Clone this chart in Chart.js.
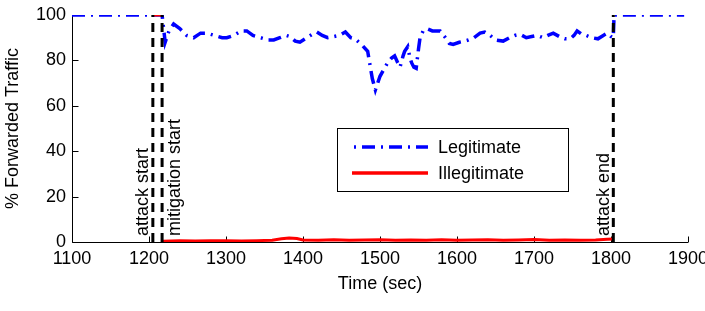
<!DOCTYPE html>
<html>
<head>
<meta charset="utf-8">
<script src="https://cdn.jsdelivr.net/npm/chart.js@4.4.0/dist/chart.umd.min.js"></script>
<style>
html, body { margin: 0; padding: 0; background: #fff; }
#wrap { width: 705px; height: 311px; }
</style>
</head>
<body>
<div id="wrap"><canvas id="chart"></canvas></div>
<script>
// ── Data ───────────────────────────────────────────────────────────────
var legitTime = [1100, 1205, 1217, 1221, 1226, 1232, 1240, 1249, 1258, 1267, 1275, 1285, 1295, 1301,
    1310, 1320, 1327, 1335, 1345, 1355, 1362, 1370, 1378, 1383, 1390, 1396, 1405, 1412, 1418, 1425,
    1432, 1440, 1447, 1455, 1462, 1468, 1476, 1484, 1487, 1490, 1494, 1497, 1500, 1505, 1510, 1515,
    1519, 1523, 1526, 1530, 1532, 1536, 1539, 1541, 1544, 1547, 1550, 1552, 1556, 1561, 1568, 1578,
    1585, 1590, 1595, 1603, 1610, 1615, 1622, 1630, 1636, 1643, 1650, 1660, 1668, 1675, 1682, 1690,
    1697, 1704, 1712, 1718, 1725, 1733, 1740, 1747, 1752, 1756, 1762, 1768, 1775, 1783, 1790, 1795,
    1800, 1803, 1804, 1895];
var legitValue = [100, 100, 100, 88, 93, 96, 94, 91, 90, 92, 92, 91, 90, 90,
    91, 93, 93, 91, 90, 89, 89, 90, 91, 90.5, 88.5, 88, 90, 91.5, 92.5, 91,
    90, 90.5, 91, 92.5, 90, 89.4, 87, 84, 78, 72, 67, 70, 73, 76, 79, 81,
    82, 79, 77, 82, 84, 86, 81, 79, 77, 76.5, 85, 90, 93, 94, 93, 93,
    90, 87.5, 87, 88, 88.5, 89, 90, 92, 92.5, 91, 89, 88.5, 90, 91, 91.5, 90,
    90.5, 91, 90, 91, 92, 90.5, 89.5, 89.5, 91, 93, 91.5, 91, 90, 89.5, 91, 92,
    90.5, 90, 100, 100];
// null marks the break between the pre-mitigation segment and the rest
var illegitTime = [1205, 1217, 1217.5, 1218, 1240, 1260, 1280, 1300, 1320, 1340, 1360, 1372, 1382, 1392, 1400,
    1420, 1440, 1460, 1480, 1500, 1520, 1540, 1560, 1580, 1600, 1620, 1640, 1660, 1680, 1700, 1720,
    1740, 1760, 1780, 1795, 1803];
var illegitValue = [100, 100, null, 0.3, 0.5, 0.4, 0.6, 0.5, 0.4, 0.6, 0.8, 1.4, 1.8, 1.5, 0.9,
    0.8, 1.0, 0.8, 0.9, 1.0, 0.8, 0.9, 0.8, 1.0, 0.8, 0.9, 1.0, 0.8, 0.9, 1.1, 0.8,
    0.9, 0.8, 0.9, 1.2, 1.3];
var eventTime = [1205, 1217, 1803];
var eventLabels = ["attack start", "mitigation start", "attack end"];
var seriesNames = ["Legitimate", "Illegitimate"];
var xTicks = [1100, 1200, 1300, 1400, 1500, 1600, 1700, 1800, 1900];
var yTicks = [0, 20, 40, 60, 80, 100];

// ── Styles ─────────────────────────────────────────────────────────────
var FONT = "'Liberation Sans', Arial, Helvetica, sans-serif";
var BLUE = "#0000ff";
var RED = "#ff0000";
var BLUE_DASH = [13, 6, 2, 6];
var EVENT_DASH = [9, 6];

function toPoints(xs, ys) {
    return xs.map(function (x, i) { return { x: x, y: ys[i] }; });
}

var eventSets = eventTime.map(function (t) {
    return {
        label: "event",
        data: [{ x: t, y: 0 }, { x: t, y: 100 }],
        borderColor: "#000",
        borderWidth: 3,
        borderDash: EVENT_DASH,
        pointRadius: 0,
        order: 0
    };
});

// axes drawn MATLAB-like: left + bottom only, ticks pointing inward
var axesPlugin = {
    id: "matlabAxes",
    beforeDatasetsDraw: function (chart) {
        var ctx = chart.ctx, a = chart.chartArea;
        var xs = chart.scales.x, ys = chart.scales.y;
        ctx.save();
        ctx.strokeStyle = "#000";
        ctx.lineWidth = 1;
        ctx.beginPath();
        var l = Math.round(a.left) + 0.5, b = Math.round(a.bottom) + 0.5;
        ctx.moveTo(l, a.top);
        ctx.lineTo(l, b);
        ctx.lineTo(a.right, b);
        xTicks.forEach(function (t) {
            var px = Math.round(xs.getPixelForValue(t)) + 0.5;
            ctx.moveTo(px, b);
            ctx.lineTo(px, b - 6);
        });
        yTicks.forEach(function (v) {
            var py = Math.round(ys.getPixelForValue(v)) + 0.5;
            ctx.moveTo(l, py);
            ctx.lineTo(l + 6, py);
        });
        ctx.stroke();
        ctx.restore();
    }
};

var labelDx = [-5, 18, -4];
var overlayPlugin = {
    id: "overlay",
    afterDatasetsDraw: function (chart) {
        var ctx = chart.ctx, a = chart.chartArea;
        var xs = chart.scales.x;
        ctx.save();
        ctx.font = "18px " + FONT;
        ctx.fillStyle = "#000";
        // event labels, rotated
        eventTime.forEach(function (t, i) {
            ctx.save();
            ctx.translate(xs.getPixelForValue(t) + labelDx[i], a.bottom - 6);
            ctx.rotate(-Math.PI / 2);
            ctx.textAlign = "left";
            ctx.textBaseline = "alphabetic";
            ctx.fillText(eventLabels[i], 0, 0);
            ctx.restore();
        });
        // legend box
        var bx = a.left + 265, by = a.top + 113, bw = 231, bh = 63;
        ctx.fillStyle = "#fff";
        ctx.fillRect(bx, by, bw, bh);
        ctx.strokeStyle = "#000";
        ctx.lineWidth = 1;
        ctx.strokeRect(Math.round(bx) + 0.5, Math.round(by) + 0.5, bw, bh);
        var rows = [by + 19, by + 45];
        var styles = [
            { color: BLUE, dash: BLUE_DASH, offset: 17 },
            { color: RED, dash: [], offset: 0 }
        ];
        rows.forEach(function (y, i) {
            ctx.beginPath();
            ctx.strokeStyle = styles[i].color;
            ctx.lineWidth = 3.5;
            ctx.setLineDash(styles[i].dash);
            ctx.lineDashOffset = styles[i].offset;
            ctx.moveTo(bx + 15, y);
            ctx.lineTo(bx + 91, y);
            ctx.stroke();
            ctx.setLineDash([]);
            ctx.fillStyle = "#000";
            ctx.textAlign = "left";
            ctx.textBaseline = "middle";
            ctx.fillText(seriesNames[i], bx + 101, y + 1);
        });
        ctx.restore();
    }
};

Chart.defaults.font.family = FONT;
Chart.defaults.font.size = 18;
Chart.defaults.color = "#000";

new Chart(document.getElementById("chart"), {
    type: "line",
    data: {
        datasets: eventSets.concat([
            {
                label: seriesNames[1],
                data: toPoints(illegitTime, illegitValue),
                borderColor: RED,
                borderWidth: 3,
                pointRadius: 0,
                tension: 0,
                spanGaps: false,
                order: 1
            },
            {
                label: seriesNames[0],
                data: toPoints(legitTime, legitValue),
                borderColor: BLUE,
                borderWidth: 3.5,
                borderDash: BLUE_DASH,
                pointRadius: 0,
                tension: 0,
                order: 2
            }
        ])
    },
    options: {
        responsive: true,
        maintainAspectRatio: false,
        animation: false,
        layout: { padding: { left: 0, top: 15, right: 17, bottom: 0 } },
        plugins: { legend: { display: false }, tooltip: { enabled: false } },
        scales: {
            x: {
                type: "linear",
                min: 1100,
                max: 1900,
                grid: { display: false, drawTicks: false },
                border: { display: false },
                ticks: { stepSize: 100, padding: 6, maxRotation: 0, autoSkip: false,
                    callback: function (v) { return String(v); } },
                title: { display: true, text: "Time (sec)", padding: { top: 0, bottom: 16 } },
                afterFit: function (s) { s.height = 69; s.paddingLeft = 0; s.paddingRight = 0; }
            },
            y: {
                min: 0,
                max: 100,
                grid: { display: false, drawTicks: false },
                border: { display: false },
                ticks: { stepSize: 20, padding: 6 },
                title: { display: true, text: "% Forwarded Traffic", padding: { top: 2, bottom: 0 } },
                afterFit: function (s) { s.width = 72; s.paddingTop = 0; s.paddingBottom = 0; }
            }
        }
    },
    plugins: [axesPlugin, overlayPlugin]
});
</script>
</body>
</html>
